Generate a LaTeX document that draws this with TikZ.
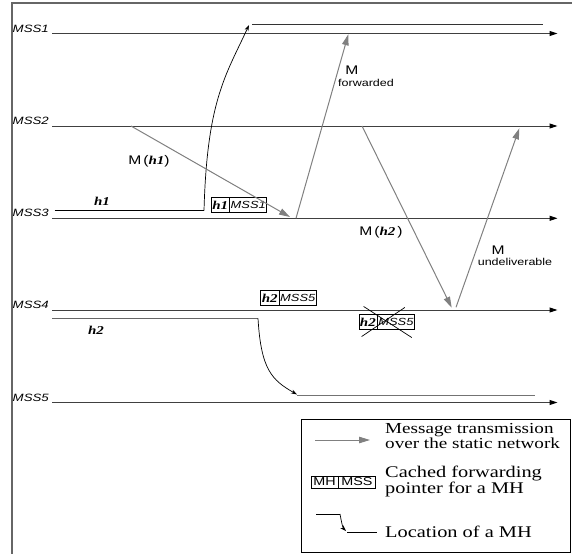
\documentclass[tikz,border=0pt]{standalone}
\usepackage{xcolor}
\usepackage{fontspec}
\setmainfont{Liberation Serif}[FakeStretch=1.25]
\setsansfont{Liberation Sans}[FakeStretch=1.25]
\usepackage{tikz}
\usetikzlibrary{arrows.meta, shapes.multipart, calc}
\definecolor{msggray}{gray}{0.5}
\newcommand\hostfont{\rmfamily\bfseries\itshape\fontsize{12}{14}\selectfont}
\newcommand\cachefont{\sffamily\itshape\fontsize{10.3}{12}\selectfont}
\tikzstyle{mss}      = [anchor=base east, inner sep=0pt,
                         font=\sffamily\itshape\fontsize{10.6}{12}\selectfont]
\tikzstyle{host}     = [inner sep=0pt, font=\hostfont]
\tikzstyle{timeline} = [-{Triangle[length=8pt, width=5pt, color=black]},
                         black!75, line width=1pt]
\tikzstyle{msg}      = [-{Triangle[length=11pt, width=6.5pt]}, msggray, line width=1pt]
\tikzstyle{loc}      = [line width=1pt]
\tikzstyle{moved}    = [-{Stealth[length=6pt, width=4pt]}, black, line width=0.7pt]
\tikzstyle{cache}    = [rectangle split, rectangle split horizontal,
                         rectangle split parts=2, draw, line width=0.6pt,
                         inner xsep=1pt, inner ysep=3pt]
\tikzstyle{msglabel} = [inner sep=0pt, font=\sffamily\fontsize{12.5}{14}\selectfont]
\tikzstyle{small}    = [inner sep=0pt, font=\sffamily\fontsize{10}{12}\selectfont]
\tikzstyle{legtext}  = [anchor=west, inner sep=0pt, align=left,
                         font=\rmfamily\fontsize{16.3}{14.5}\selectfont]

\begin{document}
\begin{tikzpicture}[x=1pt, y=-1pt]
  \useasboundingbox (0,0) rectangle (572,554);
  \draw[black!60, line width=1.5pt] (572,3) -| (12,554);

  \foreach \i/\y in {1/33.5, 2/126, 3/218.3, 4/310, 5/402.5} {
    \coordinate (s\i) at (52,\y);
    \coordinate (e\i) at (557.5,\y);
    \node[mss] (lab\i) at (49,\y-1.5) {MSS\i};
    \draw[timeline] (s\i) -- (e\i);
  }

  \coordinate (h1s) at (54.5,210.7);
  \coordinate (h1t) at (204,210.7);
  \coordinate (h1a) at (249,25);
  \coordinate (h1n) at (252,24);
  \coordinate (h1e) at (543,24);
  \draw[loc] (h1s) -- (h1t);
  \draw[moved] (h1t) .. controls (207,100) and (226,75) .. (h1a);
  \draw[loc, black!80] (h1n) -- (h1e);
  \node[host] (h1lab) at (102,201) {h1};

  \coordinate (h2s) at (52,318.3);
  \coordinate (h2t) at (258,318.3);
  \coordinate (h2a) at (297,394.5);
  \coordinate (h2n) at (297,395.7);
  \coordinate (h2e) at (535,395.7);
  \draw[loc, black!60] (h2s) -- (h2t);
  \draw[moved] (h2t) .. controls (261,370) and (272,380) .. (h2a);
  \draw[loc, black!55] (h2n) -- (h2e);
  \node[host] (h2lab) at (96,330) {h2};

  \node[cache] (c1) at (239,205) {\hostfont h1 \nodepart{two} \cachefont MSS1};
  \node[cache] (c2) at (288.5,298) {\hostfont h2 \nodepart{two} \cachefont MSS5};
  \node[cache] (c3) at (386.7,322) {\hostfont h2 \nodepart{two} \cachefont MSS5};
  \draw[line width=0.7pt] ($(c3.north west)+(5,-8)$) -- ($(c3.south east)+(-3,8)$);
  \draw[line width=0.7pt] ($(c3.south west)+(3,7)$) -- ($(c3.north east)+(-10,-7)$);

  \coordinate (m1s) at (131,126);
  \coordinate (m1e) at (290,217);
  \coordinate (m2s) at (296,218.3);
  \coordinate (m2e) at (348.3,34.3);
  \coordinate (m3s) at (362,126);
  \coordinate (m3e) at (451.7,307.7);
  \coordinate (m4s) at (456,307.3);
  \coordinate (m4e) at (519.3,128.3);
  \draw[msg] (m1s) -- (m1e);
  \draw[msg] (m2s) -- (m2e);
  \draw[msg] (m3s) -- (m3e);
  \draw[msg] (m4s) -- (m4e);

  \node[msglabel] (m1lab) at (149,161) {M\,({\hostfont h1})};
  \node[msglabel] (m2lab) at (352,70) {M};
  \node[small] (m2txt) at (366,83) {forwarded};
  \node[msglabel] (m3lab) at (381,232) {M\,({\hostfont h2\,})};
  \node[msglabel] (m4lab) at (498,250) {M};
  \node[small] (m4txt) at (515,262) {undeliverable};

  \node[draw, line width=0.7pt, anchor=north west, inner sep=0pt,
        minimum width=269pt, minimum height=133pt] (legend) at (300.5,418.5) {};
  \coordinate (la1) at (315,440);
  \coordinate (la2) at (370,440);
  \draw[msg] (la1) -- (la2);
  \node[legtext, font=\rmfamily\fontsize{15.3}{14.5}\selectfont] (lt1) at (385,436)
    {Message transmission\\over the static network};
  \node[cache, font=\sffamily\fontsize{11.5}{13}\selectfont,
        inner xsep=2.5pt, inner ysep=2pt] (lbox) at (343,482) {MH \nodepart{two} MSS};
  \node[legtext] (lt2) at (385,481) {Cached forwarding\\pointer for a MH};
  \coordinate (ll1) at (316,514);
  \coordinate (ll2) at (340,514);
  \coordinate (ll3) at (346,531);
  \coordinate (ll4) at (347,532);
  \coordinate (ll5) at (377,532);
  \draw[loc, line width=0.8pt] (ll1) -- (ll2);
  \draw[moved] (ll2) .. controls (342,525) and (343,528) .. (ll3);
  \draw[loc, line width=0.8pt] (ll4) -- (ll5);
  \node[legtext] (lt3) at (385,532) {Location of a MH};
\end{tikzpicture}
\end{document}
